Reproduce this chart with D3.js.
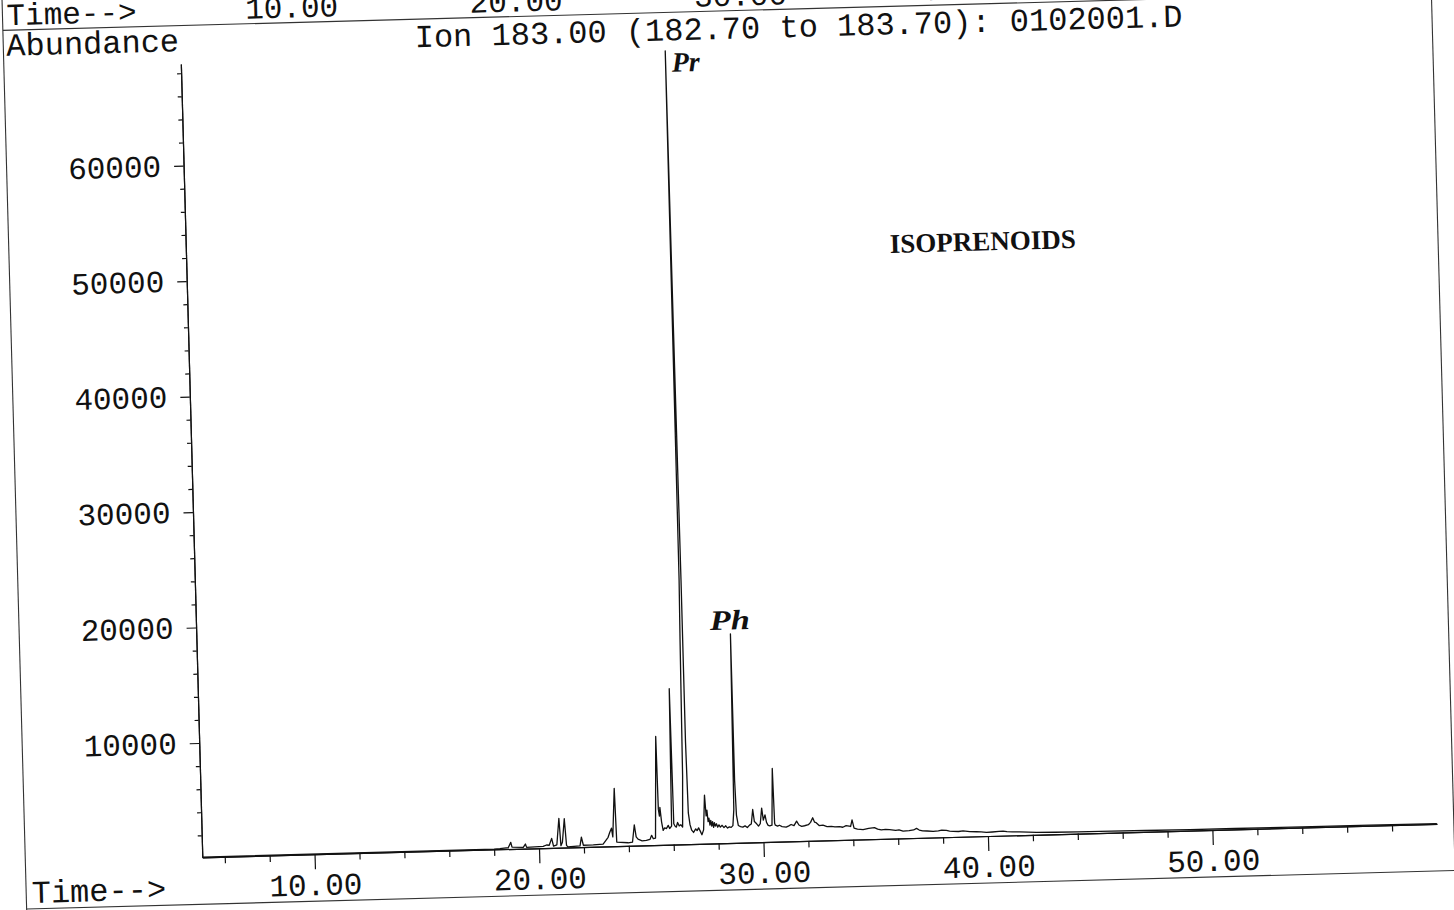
<!DOCTYPE html>
<html><head><meta charset="utf-8">
<script src="https://cdn.jsdelivr.net/npm/d3@7"></script>
<style>html,body{margin:0;padding:0;background:#fff;} svg{display:block;background:#fff;}</style>
</head><body>
<svg id="c" width="1454" height="910"></svg>
<script>
// ---- data ----
const retentionTime = [5.0,18.0,18.26,18.63,18.75,18.80,19.30,19.40,19.45,20.19,20.34,20.46,20.575,20.65,20.80,20.92,20.98,21.05,21.16,21.23,21.29,21.83,21.90,21.98,22.42,22.86,22.98,23.09,23.17,23.25,23.30,23.42,23.47,23.98,24.17,24.27,24.34,24.42,24.60,24.79,24.95,25.03,25.10,25.20,25.33,25.36,25.40,25.43,25.49,25.55,25.62,25.70,25.78,25.84,25.93,25.99,26.03,26.08,26.14,26.20,26.27,26.34,26.42,26.48,26.53,26.56,26.58,26.61,26.645,26.65,26.69,26.75,26.82,26.90,27.00,27.06,27.13,27.20,27.27,27.35,27.43,27.48,27.52,27.56,27.60,27.64,27.68,27.72,27.76,27.80,27.84,27.88,27.93,27.98,28.04,28.10,28.18,28.26,28.34,28.42,28.50,28.58,28.66,28.72,28.78,28.79,28.83,28.90,29.00,29.10,29.20,29.30,29.40,29.48,29.56,29.62,29.72,29.80,29.88,29.96,30.02,30.10,30.16,30.23,30.30,30.40,30.48,30.52,30.55,30.65,30.73,30.85,31.03,31.15,31.25,31.38,31.50,31.60,31.72,31.85,32.02,32.12,32.22,32.30,32.37,32.50,32.67,32.85,33.04,33.20,33.40,33.55,33.70,33.90,33.97,34.05,34.20,34.45,34.70,34.96,35.10,35.26,35.45,35.63,35.90,36.05,36.23,36.50,36.70,36.83,36.95,37.10,37.30,37.57,37.80,37.95,38.16,38.30,38.46,38.70,38.90,39.20,39.50,39.70,39.94,40.20,40.50,40.68,40.85,41.10,41.42,41.80,42.17,43.00,44.00,45.50,47.00,49.00,51.00,54.00,57.00,60.00];
const abundance = [120,130,150,213,670,250,200,490,200,250,360,330,920,250,350,2640,270,560,2590,280,150,200,950,250,260,300,600,880,1310,1660,900,5100,450,360,400,1900,850,650,500,520,600,950,650,700,9500,3200,2600,3350,2070,1350,1560,1500,1770,1500,1700,13600,1900,1700,1600,2000,1700,1800,1600,6000,17800,23000,68800,45000,23000,9000,2800,1800,1300,1100,1400,1250,1480,1200,880,1300,4300,2500,3000,2000,2300,1700,2100,1600,2000,1500,1900,1600,1800,1500,1700,1500,1650,1450,1600,1400,1500,1450,1600,3000,18200,5500,2500,1600,1500,1450,1550,1400,1600,1700,2950,1900,1700,1500,1700,3050,2000,2450,1800,1540,1500,1550,6450,1700,1540,1450,1520,1400,1350,1450,1560,1450,1840,1500,1380,1420,1500,1700,2090,1700,1660,1400,1430,1300,1300,1250,1260,1200,1340,1250,1810,1100,1000,950,1050,1090,950,880,920,880,800,840,730,760,800,930,780,700,680,640,660,720,690,620,580,560,600,520,500,470,420,440,470,490,430,410,390,340,300,270,250,230,210,190,175,160,145,130];

const xMajorTicks = [10,20,30,40,50];
const xMajorLabels = ["10.00","20.00","30.00","40.00","50.00"];
const xMinorTicks = [6,8,12,14,16,18,22,24,26,28,32,34,36,38,42,44,46,48,52,54,56,58];
const yMajorTicks = [10000,20000,30000,40000,50000,60000];
const yMajorLabels = ["10000","20000","30000","40000","50000","60000"];
const yMinorTicks = [2000,4000,6000,8000,12000,14000,16000,18000,22000,24000,26000,28000,32000,34000,36000,38000,42000,44000,46000,48000,52000,54000,56000,58000,62000,64000,66000,68000];
const titleText = "Ion 183.00 (182.70 to 183.70): 0102001.D";
const annotationText = "ISOPRENOIDS";
const peakLabels = [{name:"Pr"},{name:"Ph"}];

// ---- layout ----
const MONO = "'Liberation Mono', 'Courier New', monospace";
const FS = 31;
const svg = d3.select("#c");
const g = svg.append("g").attr("transform", "translate(202.3,857.3) rotate(-1.55)");

const x = d3.scaleLinear().domain([5, 60]).range([0, 1235]);
const y = d3.scaleLinear().domain([100, 68800]).range([0, -793.6]);

// page frame lines
const frame = g.append("g").attr("stroke", "#333").attr("stroke-width", 1.1).attr("fill", "none");
frame.append("line").attr("x1", -177).attr("x2", -177).attr("y1", -900).attr("y2", 90);
frame.append("line").attr("x1", -177).attr("x2", 1320).attr("y1", 47).attr("y2", 47);
frame.append("line").attr("x1", -177).attr("x2", 1320).attr("y1", -832).attr("y2", -832);
frame.append("line").attr("x1", 1252).attr("x2", 1252).attr("y1", -900).attr("y2", 47);

function styleAxis(sel) {
  sel.attr("font-family", MONO).attr("font-size", FS);
  sel.selectAll("path,line").attr("stroke", "#111").attr("stroke-width", 1.2);
  sel.selectAll("text").attr("fill", "#111");
}

g.append("g")
  .call(d3.axisBottom(x).tickValues(xMinorTicks).tickSize(6.5).tickSizeOuter(0).tickFormat(""))
  .call(styleAxis);
g.append("g")
  .call(d3.axisBottom(x).tickValues(xMajorTicks).tickSize(15).tickSizeOuter(0).tickPadding(4)
    .tickFormat((d, i) => xMajorLabels[i]))
  .call(styleAxis);

g.append("g")
  .call(d3.axisLeft(y).tickValues(yMinorTicks).tickSize(4).tickSizeOuter(0).tickFormat(""))
  .call(styleAxis);
g.append("g")
  .call(d3.axisLeft(y).tickValues(yMajorTicks).tickSize(9.5).tickSizeOuter(0).tickPadding(13)
    .tickFormat((d, i) => yMajorLabels[i]))
  .call(styleAxis);

// top (previous page) time axis labels, cut off by the page edge as in the scan
const prevAxis = g.append("g").attr("font-family", MONO).attr("font-size", FS).attr("fill", "#111");
prevAxis.append("text").attr("x", -173).attr("y", -837).text("Time-->");
prevAxis.selectAll("text.tl").data(xMajorTicks).join("text").attr("class", "tl")
  .attr("x", d => x(d)).attr("y", -837).attr("text-anchor", "middle")
  .text((d, i) => xMajorLabels[i]);

const txt = g.append("g").attr("font-family", MONO).attr("font-size", 32).attr("fill", "#111");
txt.append("text").attr("x", -174).attr("y", -806.5).text("Abundance");
txt.append("text").attr("x", 234.5).attr("y", -804).text(titleText);
txt.append("text").attr("x", -171.5).attr("y", 41).text("Time-->");

g.append("text").attr("x", 703.8).attr("y", -585.5)
  .attr("font-family", "'Liberation Serif', 'Times New Roman', serif")
  .attr("font-weight", "bold").attr("font-size", 27).attr("fill", "#111")
  .text(annotationText);

const hand = g.append("g").attr("font-family", "'Liberation Serif', serif")
  .attr("font-style", "italic").attr("font-weight", "bold").attr("font-size", 28).attr("fill", "#111");
hand.append("text").attr("x", 490.8).attr("y", -772.6).text(peakLabels[0].name);
hand.append("text").attr("x", 513.7).attr("y", -213.5)
  .attr("textLength", 40).attr("lengthAdjust", "spacingAndGlyphs").text(peakLabels[1].name);

const pts = retentionTime.map((t, i) => [t, abundance[i]]);
g.append("path")
  .attr("d", d3.line().x(d => x(d[0])).y(d => y(d[1]))(pts))
  .attr("fill", "none").attr("stroke", "#111").attr("stroke-width", 1.3)
  .attr("stroke-linejoin", "round");
</script>
</body></html>
